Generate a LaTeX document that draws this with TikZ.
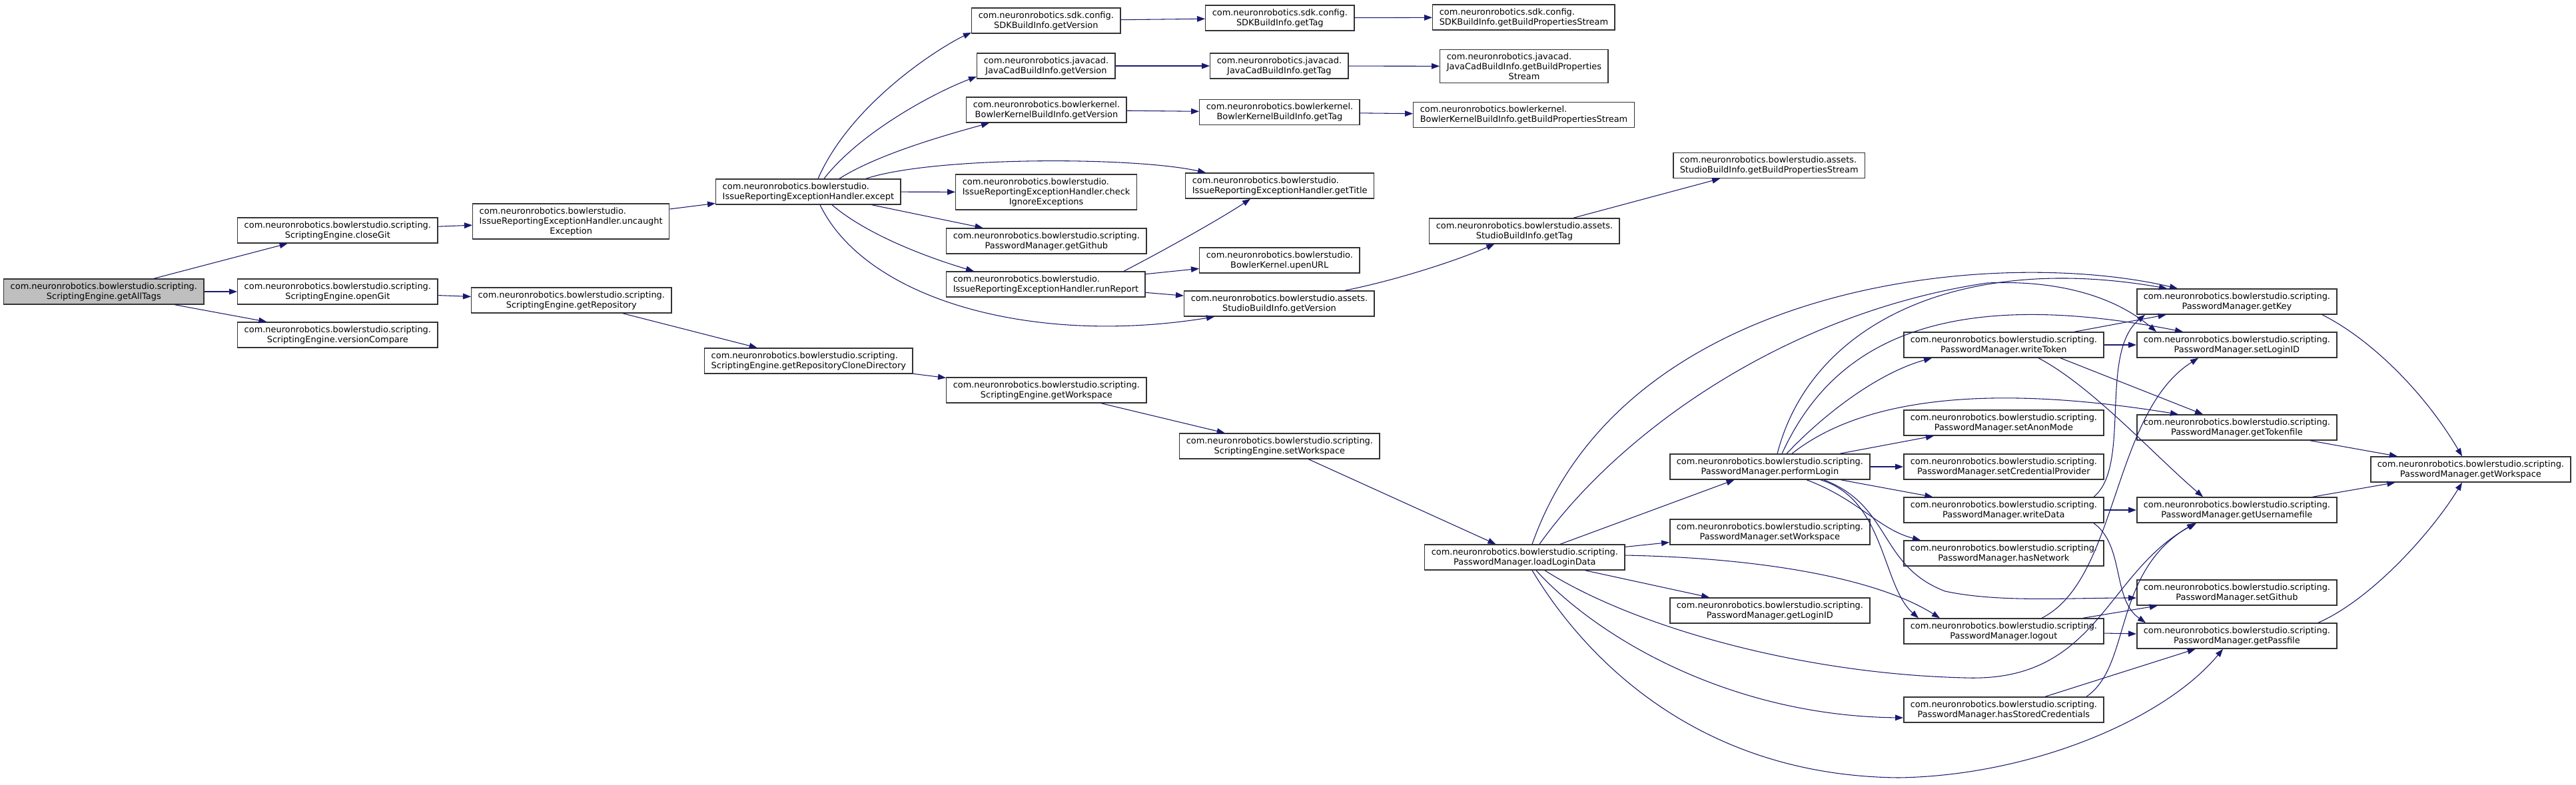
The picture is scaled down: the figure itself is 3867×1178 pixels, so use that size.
\documentclass[tikz,border=0pt]{standalone}
\usepackage{fontspec}
\setmainfont{DejaVu Sans}
\usetikzlibrary{arrows.meta,calc}
\definecolor{edgeblue}{HTML}{191970}
\definecolor{rootgray}{HTML}{BFBFBF}
\newlength\padw
\newcommand\padl[2]{\settowidth{\padw}{#2}\makebox[\padw][l]{#1}}
\begin{document}
\begin{tikzpicture}[x=0.75pt, y=-0.75pt,
        fn/.style={rectangle, draw=black!80, line width=1.1pt, fill=white, anchor=west, align=center,
            inner xsep=7.5pt, inner ysep=3.8pt, minimum height=28.5pt,
            font=\fontsize{9.7}{11.25}\selectfont},
        root/.style={fn, fill=rootgray},
        arrow/.style={draw=edgeblue, line width=0.8pt, -{Triangle[length=9pt,width=6.5pt]}}
    ]
        \useasboundingbox (0,0) rectangle (3867,1178);

        % ScriptingEngine chain
        \node[root] (root) at (5,438) {com.neuronrobotics.bowlerstudio.scripting.\\ScriptingEngine.getAllTags};
        \node[fn] (closegit) at (356,346) {com.neuronrobotics.bowlerstudio.scripting.\\ScriptingEngine.closeGit};
        \node[fn] (opengit) at (356,438) {com.neuronrobotics.bowlerstudio.scripting.\\ScriptingEngine.openGit};
        \node[fn] (vcompare) at (356,503) {com.neuronrobotics.bowlerstudio.scripting.\\ScriptingEngine.versionCompare};
        \node[fn] (uncaught) at (709,332.5) {\padl{com.neuronrobotics.bowlerstudio.}{IssueReportingExceptionHandler.uncaught}\\IssueReportingExceptionHandler.uncaught\\Exception};
        \node[fn] (getrepo) at (707,451) {com.neuronrobotics.bowlerstudio.scripting.\\ScriptingEngine.getRepository};
        \node[fn] (except) at (1074,288) {\padl{com.neuronrobotics.bowlerstudio.}{IssueReportingExceptionHandler.except}\\IssueReportingExceptionHandler.except};
        \node[fn] (clonedir) at (1057,542) {\padl{com.neuronrobotics.bowlerstudio.scripting.}{ScriptingEngine.getRepositoryCloneDirectory}\\ScriptingEngine.getRepositoryCloneDirectory};
        \node[fn] (segetws) at (1420,586) {com.neuronrobotics.bowlerstudio.scripting.\\ScriptingEngine.getWorkspace};
        \node[fn] (sesetws) at (1770,670) {com.neuronrobotics.bowlerstudio.scripting.\\ScriptingEngine.setWorkspace};

        % build info
        \node[fn] (sdkv) at (1458,31) {com.neuronrobotics.sdk.config.\\SDKBuildInfo.getVersion};
        \node[fn] (jcv) at (1466,99) {com.neuronrobotics.javacad.\\JavaCadBuildInfo.getVersion};
        \node[fn] (bkv) at (1450,165) {com.neuronrobotics.bowlerkernel.\\BowlerKernelBuildInfo.getVersion};
        \node[fn] (sdkt) at (1809,27) {com.neuronrobotics.sdk.config.\\SDKBuildInfo.getTag};
        \node[fn] (jct) at (1816,99) {com.neuronrobotics.javacad.\\JavaCadBuildInfo.getTag};
        \node[fn] (bkt) at (1800,168.5) {com.neuronrobotics.bowlerkernel.\\BowlerKernelBuildInfo.getTag};
        \node[fn] (sdkb) at (2150,26) {\padl{com.neuronrobotics.sdk.config.}{SDKBuildInfo.getBuildPropertiesStream}\\SDKBuildInfo.getBuildPropertiesStream};
        \node[fn] (jcb) at (2161,99.5) {\padl{com.neuronrobotics.javacad.}{JavaCadBuildInfo.getBuildProperties}\\JavaCadBuildInfo.getBuildProperties\\Stream};
        \node[fn] (bkb) at (2121,172.5) {\padl{com.neuronrobotics.bowlerkernel.}{BowlerKernelBuildInfo.getBuildPropertiesStream}\\BowlerKernelBuildInfo.getBuildPropertiesStream};

        % exception handler
        \node[fn] (check) at (1434,288.5) {\padl{com.neuronrobotics.bowlerstudio.}{IssueReportingExceptionHandler.check}\\IssueReportingExceptionHandler.check\\IgnoreExceptions};
        \node[fn] (pmgithub) at (1420,362) {com.neuronrobotics.bowlerstudio.scripting.\\PasswordManager.getGithub};
        \node[fn] (runrep) at (1420,427) {\padl{com.neuronrobotics.bowlerstudio.}{IssueReportingExceptionHandler.runReport}\\IssueReportingExceptionHandler.runReport};
        \node[fn] (title) at (1779,279) {\padl{com.neuronrobotics.bowlerstudio.}{IssueReportingExceptionHandler.getTitle}\\IssueReportingExceptionHandler.getTitle};
        \node[fn] (upen) at (1800,391) {com.neuronrobotics.bowlerstudio.\\BowlerKernel.upenURL};
        \node[fn] (sbiv) at (1777,456) {com.neuronrobotics.bowlerstudio.assets.\\StudioBuildInfo.getVersion};
        \node[fn] (sbit) at (2145,347) {com.neuronrobotics.bowlerstudio.assets.\\StudioBuildInfo.getTag};
        \node[fn] (sbib) at (2511,248.5) {\padl{com.neuronrobotics.bowlerstudio.assets.}{StudioBuildInfo.getBuildPropertiesStream}\\StudioBuildInfo.getBuildPropertiesStream};

        % PasswordManager
        \node[fn] (load) at (2138,837) {com.neuronrobotics.bowlerstudio.scripting.\\PasswordManager.loadLoginData};
        \node[fn] (perf) at (2506,701) {com.neuronrobotics.bowlerstudio.scripting.\\PasswordManager.performLogin};
        \node[fn] (pmsetws) at (2506,799) {com.neuronrobotics.bowlerstudio.scripting.\\PasswordManager.setWorkspace};
        \node[fn] (getloginid) at (2506,917) {com.neuronrobotics.bowlerstudio.scripting.\\PasswordManager.getLoginID};
        \node[fn] (wtoken) at (2857,518) {com.neuronrobotics.bowlerstudio.scripting.\\PasswordManager.writeToken};
        \node[fn] (anon) at (2857,635) {com.neuronrobotics.bowlerstudio.scripting.\\PasswordManager.setAnonMode};
        \node[fn] (credprov) at (2857,701) {com.neuronrobotics.bowlerstudio.scripting.\\PasswordManager.setCredentialProvider};
        \node[fn] (wdata) at (2857,766) {com.neuronrobotics.bowlerstudio.scripting.\\PasswordManager.writeData};
        \node[fn] (hasnet) at (2857,831) {com.neuronrobotics.bowlerstudio.scripting.\\PasswordManager.hasNetwork};
        \node[fn] (logout) at (2857,948) {com.neuronrobotics.bowlerstudio.scripting.\\PasswordManager.logout};
        \node[fn] (hasstored) at (2857,1066) {com.neuronrobotics.bowlerstudio.scripting.\\PasswordManager.hasStoredCredentials};
        \node[fn] (getkey) at (3207,453) {com.neuronrobotics.bowlerstudio.scripting.\\PasswordManager.getKey};
        \node[fn] (setlogin) at (3207,518) {com.neuronrobotics.bowlerstudio.scripting.\\PasswordManager.setLoginID};
        \node[fn] (gettoken) at (3207,642) {com.neuronrobotics.bowlerstudio.scripting.\\PasswordManager.getTokenfile};
        \node[fn] (getuser) at (3207,766) {com.neuronrobotics.bowlerstudio.scripting.\\PasswordManager.getUsernamefile};
        \node[fn] (setgithub) at (3207,890) {com.neuronrobotics.bowlerstudio.scripting.\\PasswordManager.setGithub};
        \node[fn] (getpass) at (3207,955) {com.neuronrobotics.bowlerstudio.scripting.\\PasswordManager.getPassfile};
        \node[fn] (pmws) at (3558,705) {com.neuronrobotics.bowlerstudio.scripting.\\PasswordManager.getWorkspace};

        % calls from getAllTags down to loadLoginData
        \draw[arrow] (root) -- (closegit);
        \draw[arrow] (root) -- (opengit);
        \draw[arrow] (root) -- (vcompare);
        \draw[arrow] (closegit) -- (uncaught);
        \draw[arrow] (opengit) -- (getrepo);
        \draw[arrow] (uncaught) -- (except);
        \draw[arrow] (getrepo) -- (clonedir);
        \draw[arrow] (clonedir) -- (segetws);
        \draw[arrow] (segetws) -- (sesetws);
        \draw[arrow] (sesetws) -- (load);

        % calls from except
        \draw[arrow] ($(except.north west)+(154,0)$) .. controls (1280,150) and (1420,66) .. ($(sdkv.west)+(0,18)$);
        \draw[arrow] ($(except.north west)+(163,0)$) .. controls (1290,200) and (1400,140) .. ($(jcv.west)+(0,16)$);
        \draw[arrow] ($(except.north west)+(186,0)$) .. controls (1320,230) and (1430,200) .. ($(bkv.south west)+(35,0)$);
        \draw[arrow] ($(except.north west)+(226,0)$) .. controls (1400,235) and (1700,235) .. ($(title.north west)+(31,0)$);
        \draw[arrow] (except) -- (check);
        \draw[arrow] (except) -- (pmgithub);
        \draw[arrow] ($(except.south west)+(175,0)$) .. controls (1310,360) and (1420,395) .. ($(runrep.north west)+(42,0)$);
        \draw[arrow] ($(except.south west)+(157,0)$) .. controls (1300,450) and (1550,520) .. ($(sbiv.south west)+(46,0)$);
        \draw[arrow] ($(runrep.north west)+(267,0)$) .. controls (1740,380) and (1830,330) .. ($(title.south west)+(98,0)$);
        \draw[arrow] (runrep) -- (upen);
        \draw[arrow] (runrep) -- (sbiv);

        % build info tags
        \draw[arrow] (sdkv) -- (sdkt);
        \draw[arrow] (jcv) -- (jct);
        \draw[arrow] (bkv) -- (bkt);
        \draw[arrow] (sdkt) -- (sdkb);
        \draw[arrow] (jct) -- (jcb);
        \draw[arrow] (bkt) -- (bkb);
        \draw[arrow] (sbiv) .. controls (2100,420) and (2190,390) .. (sbit);
        \draw[arrow] (sbit) -- (sbib);

        % calls from loadLoginData
        \draw[arrow] (load) -- (perf);
        \draw[arrow] (load) -- (pmsetws);
        \draw[arrow] (load) -- (getloginid);
        \draw[arrow] ($(load.north west)+(162,0)$) .. controls (2440,420) and (3000,370) .. ($(getkey.north west)+(62,0)$);
        \draw[arrow] ($(load.north west)+(173,0)$) .. controls (2430,650) and (2680,470) .. (2983,425) .. controls (3100,420) and (3180,450) .. ($(setlogin.north west)+(30,0)$);
        \draw[arrow] ($(load.east)+(0,-3)$) .. controls (2650,838) and (2820,870) .. ($(logout.north west)+(55,0)$);
        \draw[arrow] ($(load.south west)+(168,0)$) .. controls (2400,960) and (2600,1075) .. ($(hasstored.west)+(0,12)$);
        \draw[arrow] ($(load.south west)+(162,0)$) .. controls (2380,990) and (2550,1165) .. (2850,1168) .. controls (3050,1165) and (3250,1080) .. ($(getpass.south west)+(130,0)$);
        \draw[arrow] ($(load.south west)+(181,0)$) .. controls (2450,940) and (2700,1012) .. (2950,1018) .. controls (3150,1025) and (3160,860) .. ($(getuser.south west)+(90,0)$);

        % calls from performLogin
        \draw[arrow] ($(perf.north west)+(162,0)$) .. controls (2720,480) and (2950,380) .. ($(getkey.north west)+(46,0)$);
        \draw[arrow] ($(perf.north west)+(169,0)$) .. controls (2740,540) and (2880,420) .. ($(setlogin.north west)+(70,0)$);
        \draw[arrow] ($(perf.north west)+(184,0)$) .. controls (2780,610) and (2950,570) .. ($(gettoken.north west)+(63,0)$);
        \draw[arrow] ($(perf.north west)+(176,0)$) .. controls (2740,620) and (2820,560) .. ($(wtoken.south west)+(43,0)$);
        \draw[arrow] (perf) -- (anon);
        \draw[arrow] (perf) -- (credprov);
        \draw[arrow] (perf) -- (wdata);
        \draw[arrow] ($(perf.south west)+(206,0)$) .. controls (2790,750) and (2820,795) .. ($(hasnet.north west)+(26,0)$);
        \draw[arrow] ($(perf.south west)+(227,0)$) .. controls (2830,750) and (2825,880) .. ($(logout.north west)+(23,0)$);
        \draw[arrow] ($(perf.south west)+(232,0)$) .. controls (2840,760) and (2820,850) .. (2920,888) .. controls (3000,905) and (3100,898) .. ($(setgithub.west)+(0,8)$);

        % third column
        \draw[arrow] (wtoken) -- (setlogin);
        \draw[arrow] (wtoken) -- (getkey);
        \draw[arrow] ($(wtoken.south west)+(236,0)$) -- ($(gettoken.north west)+(100,0)$);
        \draw[arrow] ($(wtoken.south west)+(203,0)$) .. controls (3140,580) and (3230,680) .. ($(getuser.north west)+(100,0)$);
        \draw[arrow] (wdata) -- (getuser);
        \draw[arrow] ($(wdata.north west)+(286,0)$) .. controls (3200,700) and (3150,530) .. ($(getkey.south west)+(13,0)$);
        \draw[arrow] ($(wdata.south west)+(286,0)$) .. controls (3190,820) and (3170,900) .. ($(getpass.north west)+(14,0)$);
        \draw[arrow] (logout) -- (setgithub);
        \draw[arrow] (logout) -- (getpass);
        \draw[arrow] ($(logout.north west)+(208,0)$) .. controls (3180,870) and (3170,620) .. ($(setlogin.south west)+(93,0)$);
        \draw[arrow] (hasstored) -- (getpass);
        \draw[arrow] ($(hasstored.north west)+(275,0)$) .. controls (3200,1000) and (3170,860) .. ($(getuser.south west)+(88,0)$);

        % into getWorkspace
        \draw[arrow] ($(getkey.south west)+(279,0)$) .. controls (3560,510) and (3640,590) .. ($(pmws.north west)+(138,0)$);
        \draw[arrow] (gettoken) -- (pmws);
        \draw[arrow] (getuser) -- (pmws);
        \draw[arrow] ($(getpass.north west)+(273,0)$) .. controls (3560,900) and (3650,800) .. ($(pmws.south west)+(138,0)$);
    \end{tikzpicture}
\end{document}
